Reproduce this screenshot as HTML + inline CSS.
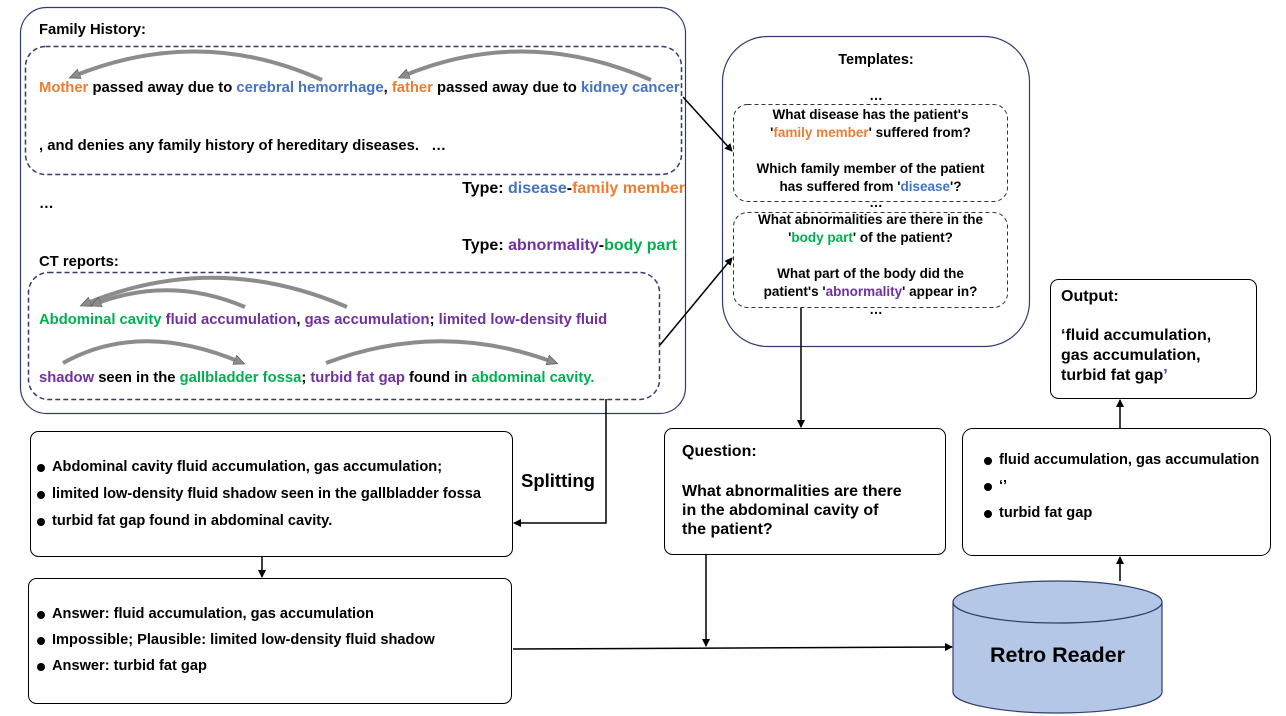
<!DOCTYPE html>
<html><head><meta charset="utf-8">
<style>
body{margin:0;width:1286px;height:716px;background:#fff;position:relative;overflow:hidden;font-family:"Liberation Sans",Arial,sans-serif;font-weight:bold;color:#000}
.a{position:absolute;white-space:nowrap}
.o{color:#ED7D31}.b{color:#4472C4}.g{color:#00B050}.p{color:#7030A0}
.t14{font-size:14.8px}.t13{font-size:13.5px}
.c{text-align:center}
.li{position:absolute;white-space:nowrap;font-size:14.6px}
.li:before{content:"";position:absolute;left:-15px;top:5px;width:8px;height:8px;border-radius:50%;background:#000}
</style></head><body>
<svg width="1286" height="716" style="position:absolute;left:0;top:0">
<defs>
<marker id="ar" markerWidth="8" markerHeight="8" refX="7" refY="4" orient="auto" markerUnits="userSpaceOnUse"><path d="M0,0 L8,4 L0,8 Z" fill="#000"/></marker>
<marker id="ga" markerWidth="12" markerHeight="12" refX="6" refY="6" orient="auto" markerUnits="userSpaceOnUse"><path d="M0,1 L11,6 L0,11 Z" fill="#8c8c8c" stroke="#555" stroke-width="0.7"/></marker>
</defs>
<g fill="none" stroke="#2F3E6E" stroke-width="1.2">
<rect x="20.5" y="7.5" width="665" height="406" rx="26"/>
<rect x="25.5" y="46.5" width="656" height="128" rx="20" stroke-dasharray="5,3" stroke-width="1.5"/>
<rect x="28.5" y="272.5" width="631" height="127" rx="20" stroke-dasharray="5,3" stroke-width="1.5"/>
<rect x="722.5" y="36.5" width="307" height="310" rx="45"/>
</g>
<g fill="none" stroke="#333" stroke-width="1" stroke-dasharray="4,3">
<rect x="733.5" y="104.5" width="274" height="97" rx="14"/>
<rect x="733.5" y="212.5" width="274" height="95" rx="14"/>
</g>
<g fill="#fff" stroke="#000" stroke-width="1">
<rect x="1050.5" y="279.5" width="206" height="119" rx="8"/>
<rect x="30.5" y="431.5" width="482" height="125" rx="8"/>
<rect x="664.5" y="428.5" width="281" height="126" rx="8"/>
<rect x="962.5" y="428.5" width="308" height="127" rx="10"/>
<rect x="28.5" y="578.5" width="483" height="125" rx="8"/>
</g>
<path d="M953,602 L953,692 A104.5,21 0 0 0 1162,692 L1162,602" fill="#B4C7E7" stroke="#2F3E6E" stroke-width="1.2"/>
<ellipse cx="1057.5" cy="602" rx="104.5" ry="21" fill="#B4C7E7" stroke="#2F3E6E" stroke-width="1.2"/>
<g stroke="#000" stroke-width="1.5" fill="none">
<line x1="683" y1="97" x2="732" y2="151" marker-end="url(#ar)"/>
<line x1="660" y1="345" x2="732" y2="258" marker-end="url(#ar)"/>
<line x1="801" y1="308" x2="801" y2="427" marker-end="url(#ar)"/>
<polyline points="606,399 606,523 514,523" marker-end="url(#ar)"/>
<line x1="262" y1="557" x2="262" y2="577" marker-end="url(#ar)"/>
<line x1="513" y1="649" x2="952" y2="647" marker-end="url(#ar)"/>
<line x1="706" y1="555" x2="706" y2="646" marker-end="url(#ar)"/>
<line x1="1120" y1="581" x2="1120" y2="557" marker-end="url(#ar)"/>
<line x1="1120" y1="428" x2="1120" y2="400" marker-end="url(#ar)"/>
</g>
<g stroke="#8c8c8c" stroke-width="4" fill="none">
<path d="M322,80 Q200,25 74,76" marker-end="url(#ga)"/>
<path d="M651,80 Q525,25 403,76" marker-end="url(#ga)"/>
<path d="M347,307 Q215,250 85,304" marker-end="url(#ga)"/>
<path d="M245,307 Q170,275 95,304" marker-end="url(#ga)"/>
<path d="M63,363 Q140,320 240,362" marker-end="url(#ga)"/>
<path d="M326,363 Q440,320 553,362" marker-end="url(#ga)"/>
</g>
</svg>

<div class="a t14" style="left:39px;top:22px">Family History:</div>
<div class="a t14" style="left:39px;top:80px"><span class="o">Mother</span> passed away due to <span class="b">cerebral hemorrhage</span>, <span class="o">father</span> passed away due to <span class="b">kidney cancer</span></div>
<div class="a t14" style="left:39px;top:138px">, and denies any family history of hereditary diseases. &nbsp; …</div>
<div class="a" style="font-size:16px;right:601px;top:180px">Type: <span class="b">disease</span>-<span class="o">family member</span></div>
<div class="a t14" style="left:39px;top:196px">…</div>
<div class="a" style="font-size:16px;right:609px;top:237px">Type: <span class="p">abnormality</span>-<span class="g">body part</span></div>
<div class="a t14" style="left:39px;top:254px">CT reports:</div>
<div class="a t14" style="left:39px;top:312px"><span class="g">Abdominal cavity</span> <span class="p">fluid accumulation</span>, <span class="p">gas accumulation</span>; <span class="p">limited low-density fluid</span></div>
<div class="a t14" style="left:39px;top:370px"><span class="p">shadow</span> seen in the <span class="g">gallbladder fossa</span>; <span class="p">turbid fat gap</span> found in <span class="g">abdominal cavity.</span></div>

<div class="a" style="left:722px;width:308px;top:52px;text-align:center;font-size:14.5px">Templates:</div>
<div class="a t13" style="left:722px;width:308px;top:88px;text-align:center">…</div>
<div class="a t13 c" style="left:733px;width:275px;top:106px;line-height:18px">What disease has the patient's<br>'<span class="o">family member</span>' suffered from?<br><div style="height:18px"></div>Which family member of the patient<br>has suffered from '<span class="b">disease</span>'?</div>
<div class="a t13" style="left:722px;width:308px;top:195px;text-align:center">…</div>
<div class="a t13 c" style="left:733px;width:275px;top:211px;line-height:18px">What abnormalities are there in the<br>'<span class="g">body part</span>' of the patient?<br><div style="height:18px"></div>What part of the body did the<br>patient's '<span class="p">abnormality</span>' appear in?</div>
<div class="a t13" style="left:722px;width:308px;top:302px;text-align:center">…</div>

<div class="a" style="left:1061px;top:288px;font-size:16px">Output:</div>
<div class="a" style="left:1061px;top:326px;line-height:20px;font-size:16px">‘fluid accumulation,<br>gas accumulation,<br>turbid fat gap<span class="p">’</span></div>

<div class="li" style="left:52px;top:459px">Abdominal cavity fluid accumulation, gas accumulation;</div>
<div class="li" style="left:52px;top:486px">limited low-density fluid shadow seen in the gallbladder fossa</div>
<div class="li" style="left:52px;top:513px">turbid fat gap found in abdominal cavity.</div>
<div class="a" style="left:521px;top:470px;font-size:18.5px">Splitting</div>

<div class="a" style="left:682px;top:443px;font-size:16px">Question:</div>
<div class="a" style="left:682px;top:482px;line-height:19px;font-size:16px">What abnormalities are there<br>in the abdominal cavity of<br>the patient?</div>

<div class="li" style="left:999px;top:452px">fluid accumulation, gas accumulation</div>
<div class="li" style="left:999px;top:478px">‘’</div>
<div class="li" style="left:999px;top:505px">turbid fat gap</div>

<div class="li" style="left:52px;top:606px">Answer: fluid accumulation, gas accumulation</div>
<div class="li" style="left:52px;top:632px">Impossible; Plausible: limited low-density fluid shadow</div>
<div class="li" style="left:52px;top:658px">Answer: turbid fat gap</div>

<div class="a" style="left:953px;width:209px;top:643px;font-size:21.5px;text-align:center">Retro Reader</div>
</body></html>
